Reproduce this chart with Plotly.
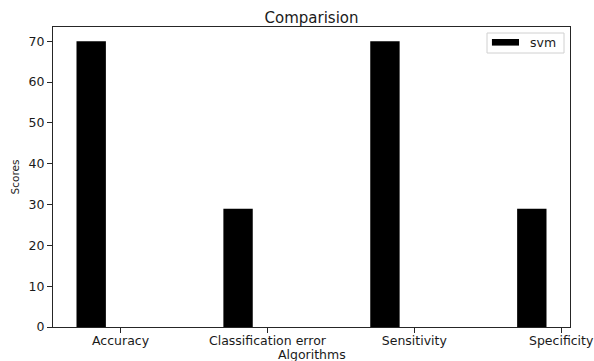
import plotly.graph_objects as go

categories = ["Accuracy", "Classification error", "Sensitivity", "Specificity"]
svm_scores = [70, 29, 70, 29]
series_name = "svm"
y_ticks = [0, 10, 20, 30, 40, 50, 60, 70]

positions = list(range(len(categories)))
bar_width = 0.2
tick_positions = [p + bar_width for p in positions]

FONT = "DejaVu Sans"
AX = "#262626"
TXT = "#1a1a1a"

fig = go.Figure()
fig.add_trace(go.Bar(
    x=positions, y=svm_scores, width=bar_width,
    marker=dict(color="black", line=dict(width=0)),
    name=series_name, showlegend=False,
))

fig.update_layout(
    width=594, height=361,
    margin=dict(l=53, r=24, t=27, b=34, autoexpand=False),
    paper_bgcolor="white", plot_bgcolor="white",
    font=dict(family=FONT, size=12.5, color=TXT),
    title=dict(text="Comparision", x=0.5, xref="paper", xanchor="center",
               y=1 - 17.5 / 361, yref="container", yanchor="middle",
               font=dict(size=15, family=FONT, color=TXT)),
    showlegend=False,
)

# matplotlib-style legend box (wide patch + label)
fig.add_shape(type="rect", xref="paper", yref="paper",
              x0=0.8395, x1=0.9884, y0=0.9133, y1=0.98,
              line=dict(color="#d0d0d0", width=1), fillcolor="white", layer="above")
fig.add_shape(type="rect", xref="paper", yref="paper",
              x0=0.849, x1=0.9014, y0=0.938, y1=0.96,
              line=dict(width=0), fillcolor="black", layer="above")
fig.add_annotation(text=series_name, xref="paper", yref="paper",
                   x=0.9487, y=0.948, xanchor="center", yanchor="middle",
                   showarrow=False, font=dict(size=12.5, family=FONT, color=TXT))

# x-axis title placed like matplotlib's
fig.add_annotation(text="Algorithms", xref="paper", yref="paper",
                   x=0.5, y=-0.09, xanchor="center", yanchor="middle",
                   showarrow=False, font=dict(size=12.5, family=FONT, color=TXT))

fig.update_xaxes(
    automargin=False,
    range=[-0.26, 3.26], tickmode="array", tickvals=tick_positions, ticktext=categories,
    showgrid=False, zeroline=False, showline=True, linecolor=AX, linewidth=1, mirror=True,
    ticks="outside", ticklen=5, tickcolor=AX, tickwidth=1,
    ticklabelstandoff=-3,
    tickfont=dict(size=12.5, family=FONT, color=TXT),
)
fig.update_yaxes(
    automargin=False,
    range=[0, 73.5], tickmode="array", tickvals=y_ticks,
    showgrid=False, zeroline=False, showline=True, linecolor=AX, linewidth=1, mirror=True,
    ticks="outside", ticklen=5, tickcolor=AX, tickwidth=1,
    tickfont=dict(size=12.5, family=FONT, color=TXT),
    title=dict(text="Scores", font=dict(size=10.5, family=FONT, color=TXT), standoff=6),
)

fig.write_html("out.html")
